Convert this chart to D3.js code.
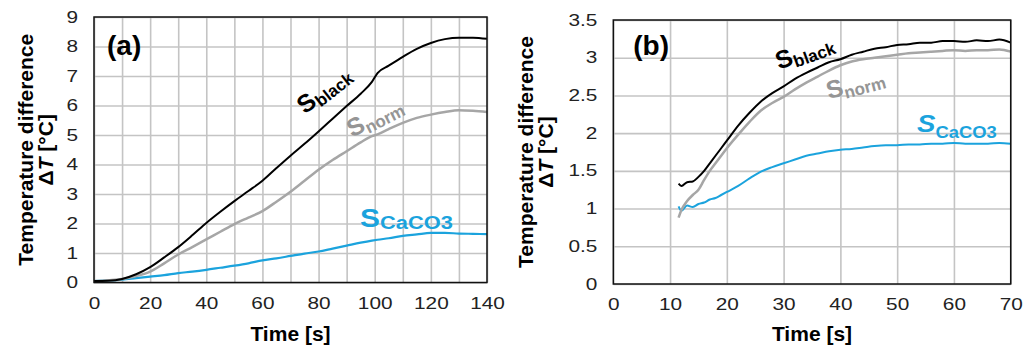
<html>
<head>
<meta charset="utf-8">
<script src="https://d3js.org/d3.v7.min.js"></script>
<style>
    body { margin: 0; background: #fff; }
    text { font-family: "Liberation Sans", Arial, sans-serif; }
    .ticks path, .ticks line { display: none; }
    .ticks text { font-size: 16px; fill: #222; }
</style>
</head>
<body>
<svg id="chart" width="1025" height="352"></svg>
<script>
// ---- panel (a) ----
const timeA  = [0, 5, 10, 15, 20, 25, 30, 35, 40, 45, 50, 55, 60, 65, 70, 75, 80, 85, 90, 95, 99, 101, 105, 110, 115, 120, 125, 130, 135, 140];
const blackA = [0.05, 0.06, 0.12, 0.28, 0.52, 0.85, 1.2, 1.6, 2.02, 2.4, 2.76, 3.1, 3.45, 3.88, 4.3, 4.7, 5.12, 5.55, 5.98, 6.4, 6.8, 7.1, 7.35, 7.65, 7.92, 8.12, 8.25, 8.3, 8.3, 8.26];
const normA  = [0.05, 0.08, 0.12, 0.22, 0.37, 0.65, 0.95, 1.2, 1.46, 1.72, 1.98, 2.2, 2.42, 2.74, 3.08, 3.45, 3.82, 4.15, 4.45, 4.75, 4.96, 5.02, 5.2, 5.41, 5.58, 5.69, 5.78, 5.84, 5.82, 5.78];
const caco3A = [0.05, 0.07, 0.1, 0.15, 0.2, 0.25, 0.32, 0.37, 0.43, 0.5, 0.57, 0.65, 0.75, 0.82, 0.9, 0.98, 1.05, 1.15, 1.25, 1.35, 1.42, 1.45, 1.5, 1.58, 1.63, 1.68, 1.68, 1.66, 1.65, 1.64];
const xTicksA = [0, 20, 40, 60, 80, 100, 120, 140];
const yTicksA = [0, 1, 2, 3, 4, 5, 6, 7, 8, 9];

// ---- panel (b) ----
const timeB  = [11.5, 12, 13, 14, 15, 16, 17, 18, 19, 20, 22, 24, 26, 28, 30, 32, 34, 36, 38, 40, 42, 44, 46, 48, 50, 52, 54, 56, 58, 60, 62, 64, 66, 68, 70];
const blackB = [1.33, 1.3, 1.35, 1.36, 1.42, 1.5, 1.6, 1.7, 1.8, 1.9, 2.1, 2.27, 2.42, 2.53, 2.62, 2.72, 2.8, 2.87, 2.94, 2.98, 3.04, 3.08, 3.12, 3.14, 3.17, 3.18, 3.2, 3.2, 3.22, 3.22, 3.21, 3.23, 3.22, 3.24, 3.2];
const normB  = [0.88, 0.98, 1.1, 1.18, 1.25, 1.38, 1.5, 1.6, 1.7, 1.8, 1.98, 2.15, 2.3, 2.4, 2.48, 2.58, 2.67, 2.75, 2.83, 2.9, 2.95, 2.98, 3.0, 3.02, 3.04, 3.06, 3.07, 3.08, 3.09, 3.1, 3.09, 3.1, 3.1, 3.11, 3.08];
const caco3B = [1.03, 0.97, 1.04, 1.02, 1.06, 1.08, 1.12, 1.14, 1.18, 1.22, 1.3, 1.4, 1.49, 1.55, 1.6, 1.65, 1.7, 1.73, 1.76, 1.78, 1.79, 1.81, 1.83, 1.84, 1.84, 1.85, 1.85, 1.86, 1.86, 1.87, 1.86, 1.86, 1.86, 1.87, 1.86];
const xTicksB = [0, 10, 20, 30, 40, 50, 60, 70];
const yTicksB = [0, 0.5, 1, 1.5, 2, 2.5, 3, 3.5];

const BLACK = "#000000", GRAY = "#a6a6a6", GRAYTXT = "#959595", BLUE = "#1ba3dd";
const GRID = "#c4c4c4";

const svg = d3.select("#chart");

function drawPanel(p) {
    const x = d3.scaleLinear().domain(p.xDomain).range([p.left, p.right]);
    const y = d3.scaleLinear().domain(p.yDomain).range([p.bottom, p.top]);
    const w = p.right - p.left, h = p.bottom - p.top;

    // layers: grid goes underneath the curves
    const gridLayer = svg.append("g");
    const dataLayer = svg.append("g");

    const gx = gridLayer.append("g")
        .attr("transform", "translate(0," + p.bottom + ")")
        .call(d3.axisBottom(x).tickValues(d3.range(p.xDomain[0], p.xDomain[1] + 0.01, p.xGrid)).tickSize(-h).tickFormat(""));
    const gy = gridLayer.append("g")
        .attr("transform", "translate(" + p.left + ",0)")
        .call(d3.axisLeft(y).tickValues(p.yTicks).tickSize(-w).tickFormat(""));
    [gx, gy].forEach(g => {
        g.select(".domain").remove();
        g.selectAll("line").style("stroke", GRID).style("stroke-width", "1.6px");
    });

    // series
    const line = d3.line().x(d => x(d[0])).y(d => y(d[1])).curve(d3.curveMonotoneX);
    p.series.forEach(s => {
        dataLayer.append("path")
            .datum(p.time.map((t, i) => [t, s.values[i]]))
            .attr("fill", "none")
            .attr("stroke", s.color)
            .attr("stroke-width", s.width)
            .attr("stroke-linejoin", "round")
            .attr("d", line);
    });

    // frame
    dataLayer.append("rect")
        .attr("x", p.left).attr("y", p.top).attr("width", w).attr("height", h)
        .attr("fill", "none").attr("stroke", "#111").attr("stroke-width", 1.5);

    // tick labels (source font is drawn a bit wide)
    const fmt = d => String(d);
    const xa = svg.append("g").attr("class", "ticks")
        .attr("transform", "translate(0," + p.bottom + ")")
        .call(d3.axisBottom(x).tickValues(p.xTicks).tickFormat(fmt).tickSize(0).tickPadding(15));
    xa.selectAll("text").attr("transform", "scale(1.3,1)");
    const ya = svg.append("g").attr("class", "ticks")
        .attr("transform", "translate(" + p.left + ",0)")
        .call(d3.axisLeft(y).tickValues(p.yTicks).tickFormat(fmt).tickSize(0).tickPadding(12.3));
    ya.selectAll("text").attr("transform", "scale(1.3,1)");

    // axis titles
    svg.append("text")
        .attr("x", (p.left + p.right) / 2).attr("y", 341)
        .attr("text-anchor", "middle")
        .style("font-size", "21px").style("font-weight", "bold")
        .text("Time [s]");
    const cy = (p.top + p.bottom) / 2;
    svg.append("text")
        .attr("transform", "translate(" + p.titleX + "," + cy + ") rotate(-90)")
        .attr("text-anchor", "middle")
        .style("font-size", "21px").style("font-weight", "bold")
        .text("Temperature difference");
    const t2 = svg.append("text")
        .attr("transform", "translate(" + (p.titleX + 20) + "," + cy + ") rotate(-90)")
        .attr("text-anchor", "middle")
        .style("font-size", "21px").style("font-weight", "bold");
    t2.append("tspan").text("Δ");
    t2.append("tspan").style("font-style", "italic").text("T");
    t2.append("tspan").text(" [°C]");

    // panel letter
    svg.append("text")
        .attr("x", p.left + p.letterDx).attr("y", p.top + p.letterDy)
        .style("font-size", "28px").style("font-weight", "bold")
        .text(p.letter);

    // series labels
    p.labels.forEach(l => {
        const t = svg.append("text")
            .attr("transform", "translate(" + x(l.at[0]) + "," + y(l.at[1]) + ") rotate(" + l.angle + ") scale(" + l.sx + ",1)")
            .attr("fill", l.color)
            .style("font-weight", "bold");
        t.append("tspan").style("font-size", l.big + "px").style("font-style", l.italic ? "italic" : "normal").text("S");
        t.append("tspan").attr("dy", l.drop).style("font-size", l.small + "px").text(l.sub);
    });
}

drawPanel({
    left: 94, right: 487, top: 17, bottom: 282.5,
    xDomain: [0, 140], yDomain: [0, 9], xGrid: 10,
    xTicks: xTicksA, yTicks: yTicksA,
    time: timeA,
    series: [
        { values: caco3A, color: BLUE, width: 2.2 },
        { values: normA, color: GRAY, width: 2.5 },
        { values: blackA, color: BLACK, width: 2 }
    ],
    titleX: 33, letter: "(a)", letterDx: 13, letterDy: 38,
    labels: [
        { at: [75.2, 5.69], angle: -38, sx: 1, color: BLACK, big: 25, small: 17, drop: 4, sub: "black" },
        { at: [91.9, 4.91], angle: -27, sx: 1, color: GRAYTXT, big: 25, small: 17, drop: 4, sub: "norm" },
        { at: [94.8, 1.88], angle: 0, sx: 1.15, color: BLUE, big: 26, small: 19, drop: 2, sub: "CaCO3" }
    ]
});

drawPanel({
    left: 613.3, right: 1010.7, top: 20, bottom: 284,
    xDomain: [0, 70], yDomain: [0, 3.5], xGrid: 10,
    xTicks: xTicksB, yTicks: yTicksB,
    time: timeB,
    series: [
        { values: caco3B, color: BLUE, width: 2 },
        { values: normB, color: GRAY, width: 2.5 },
        { values: blackB, color: BLACK, width: 2 }
    ],
    titleX: 533, letter: "(b)", letterDx: 20, letterDy: 35,
    labels: [
        { at: [29.2, 2.84], angle: -20, sx: 1, color: BLACK, big: 25, small: 17, drop: 4, sub: "black" },
        { at: [37.96, 2.45], angle: -15, sx: 1, color: GRAYTXT, big: 25, small: 17, drop: 4, sub: "norm" },
        { at: [53.5, 2.015], angle: 0, sx: 1.15, color: BLUE, big: 24, small: 16, drop: 6, sub: "CaCO3", italic: true }
    ]
});
</script>
</body>
</html>
